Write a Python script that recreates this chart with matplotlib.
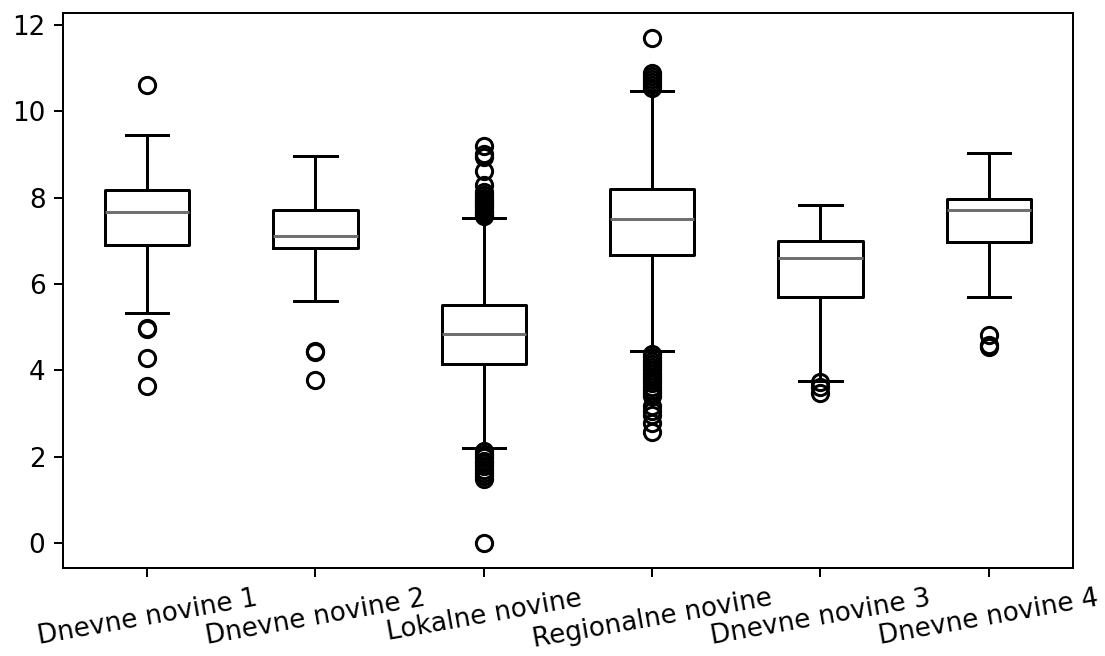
import matplotlib
matplotlib.use("Agg")
import matplotlib.pyplot as plt

categories = [
    "Dnevne novine 1", "Dnevne novine 2", "Lokalne novine",
    "Regionalne novine", "Dnevne novine 3", "Dnevne novine 4",
]

# five-number summaries per category
whislo = [5.32, 5.60, 2.19, 4.44, 3.74, 5.70]
q1 = [6.90, 6.83, 4.15, 6.67, 5.69, 6.96]
med = [7.66, 7.11, 4.85, 7.51, 6.60, 7.71]
q3 = [8.17, 7.71, 5.51, 8.19, 6.99, 7.96]
whishi = [9.44, 8.96, 7.52, 10.47, 7.82, 9.04]

fliers = [
    [10.60, 4.98, 4.95, 4.28, 3.63],
    [4.45, 4.42, 3.77],
    [9.19, 9.02, 8.93, 8.61, 8.29, 8.13, 8.05, 8.00, 7.95, 7.90, 7.85,
     7.80, 7.75, 7.70, 7.65, 7.60, 7.57,
     2.12, 2.05, 1.98, 1.90, 1.85, 1.78, 1.70, 1.62, 1.55, 1.48, 0.0],
    [11.69, 10.88, 10.82, 10.75, 10.68, 10.62, 10.55,
     4.38, 4.30, 4.22, 4.15, 4.08, 4.00, 3.92, 3.85, 3.78, 3.70, 3.62,
     3.55, 3.48, 3.40, 3.16, 3.05, 2.96, 2.77, 2.58],
    [3.72, 3.62, 3.48],
    [4.82, 4.58, 4.54],
]

stats = []
for i, name in enumerate(categories):
    stats.append({
        "label": name,
        "whislo": whislo[i],
        "q1": q1[i],
        "med": med[i],
        "q3": q3[i],
        "whishi": whishi[i],
        "fliers": fliers[i],
    })

plt.rcParams["font.size"] = 10.5

DPI = 180
fig = plt.figure(figsize=(1105 / DPI, 656 / DPI), dpi=DPI)
ax = fig.add_axes([0.057, 0.134, 0.914, 0.846])

lw = 1.2
ax.bxp(
    stats,
    widths=0.5,
    boxprops=dict(color="black", linewidth=lw),
    whiskerprops=dict(color="black", linewidth=lw),
    capprops=dict(color="black", linewidth=lw),
    medianprops=dict(color="#707070", linewidth=lw),
    flierprops=dict(marker="o", markerfacecolor="none", markeredgecolor="black",
                    markersize=6.5, markeredgewidth=lw),
)

ax.set_yticks([0, 2, 4, 6, 8, 10, 12])
plt.setp(ax.get_xticklabels(), rotation=10)

fig.savefig("out.png", dpi=DPI)
